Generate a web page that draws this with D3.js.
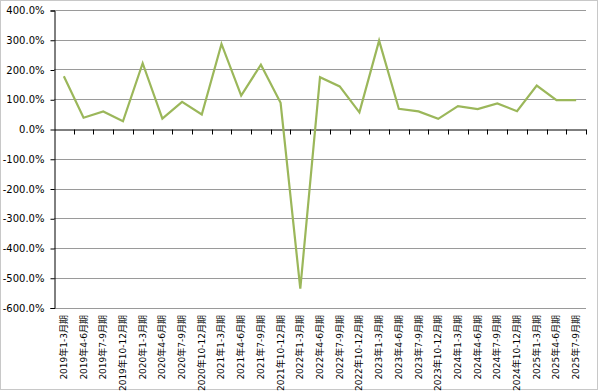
<!DOCTYPE html>
<html><head><meta charset="utf-8">
<script src="https://cdn.jsdelivr.net/npm/d3@7"></script>
<style>body{margin:0;background:#fff}svg{display:block}</style>
</head><body>
<svg id="c" width="600" height="392"></svg>
<script>
const categories = ["2019年1-3月期","2019年4-6月期","2019年7-9月期","2019年10-12月期",
"2020年1-3月期","2020年4-6月期","2020年7-9月期","2020年10-12月期",
"2021年1-3月期","2021年4-6月期","2021年7-9月期","2021年10-12月期",
"2022年1-3月期","2022年4-6月期","2022年7-9月期","2022年10-12月期",
"2023年1-3月期","2023年4-6月期","2023年7-9月期","2023年10-12月期",
"2024年1-3月期","2024年4-6月期","2024年7-9月期","2024年10-12月期",
"2025年1-3月期","2025年4-6月期","2025年7-9月期"];
const values = [177,38,59,26,221,35,91,49,286,112,216,88,-537,174,143,56,297,68,59,34,77,67,86,60,146,97,97];
const yTicks = [400,300,200,100,0,-100,-200,-300,-400,-500,-600];

const svg = d3.select("#c");
const L = 54, R = 586, T = 10, B = 307.5;
const x = d3.scaleBand().domain(categories).range([L, R]).padding(0);
const y = d3.scaleLinear().domain([-600, 400]).range([B, T]);

// outer frame
svg.append("rect").attr("x",0.5).attr("y",0.5).attr("width",597).attr("height",389)
  .attr("fill","none").attr("stroke","#c8c8c8");

// gridlines
svg.append("g").selectAll("line").data(yTicks.filter(d=>d!==0)).join("line")
  .attr("x1",L).attr("x2",R).attr("y1",d=>Math.round(y(d))+0.5).attr("y2",d=>Math.round(y(d))+0.5)
  .attr("stroke","#9a9a9a").attr("stroke-width",1);

// y axis
const fmt = d => (d < 0 ? "-" : "") + Math.abs(d).toFixed(1) + "%";
const yAxis = d3.axisLeft(y).tickValues(yTicks).tickSize(4).tickFormat(fmt);
const gy = svg.append("g").attr("transform",`translate(${L+0.5},0.5)`).call(yAxis);
gy.select(".domain").attr("stroke","#000");
gy.selectAll(".tick line").attr("stroke","#000");
gy.selectAll(".tick text").attr("font-family","DejaVu Sans, Verdana, sans-serif").attr("font-size","10px")
  .attr("fill","#000").attr("x",-10);

// x axis at zero
const xAxis = d3.axisBottom(x).tickSize(0).tickFormat("");
const gx = svg.append("g").attr("transform",`translate(0,${Math.round(y(0))+0.5})`).call(xAxis);
gx.select(".domain").attr("stroke","#000");
// boundary ticks
gx.append("g").selectAll("line").data(categories).join("line")
  .attr("x1",(d,i)=>Math.round(x(d)+x.bandwidth())+0.5)
  .attr("x2",(d,i)=>Math.round(x(d)+x.bandwidth())+0.5)
  .attr("y1",0).attr("y2",5).attr("stroke","#000");

// category labels at bottom
svg.append("g").selectAll("text").data(categories).join("text")
  .attr("transform",d=>`translate(${x(d)+x.bandwidth()/2+3},315) rotate(-90)`)
  .attr("text-anchor","end")
  .attr("font-family","DejaVu Sans, Verdana, 'Noto Sans CJK JP', sans-serif")
  .attr("font-size","9px").attr("fill","#000")
  .text(d=>d);

// line
const line = d3.line().x((d,i)=>x(categories[i])+x.bandwidth()/2).y(d=>y(d));
svg.append("path").datum(values).attr("d",line)
  .attr("fill","none").attr("stroke","#9BB75A").attr("stroke-width",2.2).attr("stroke-linejoin","miter");
</script>
</body></html>
